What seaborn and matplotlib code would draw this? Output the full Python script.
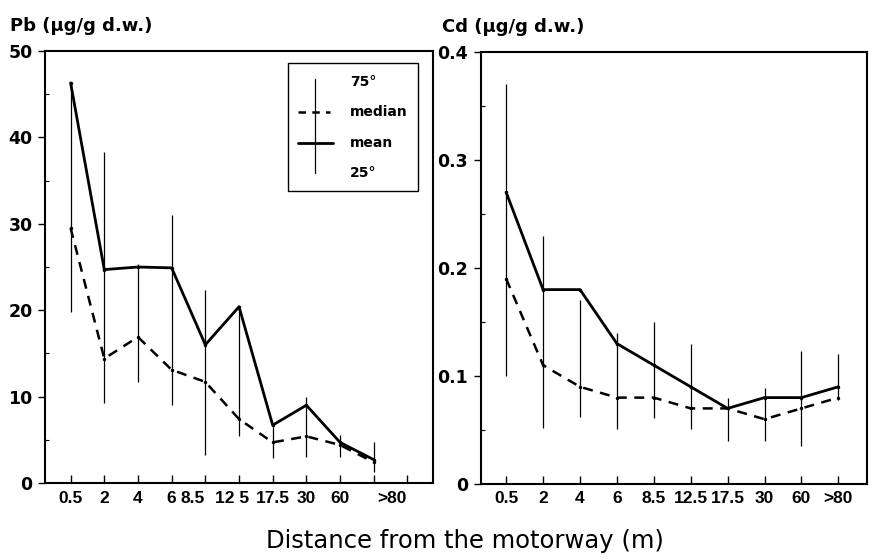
import numpy as np
import pandas as pd
import matplotlib
matplotlib.use("Agg")
import matplotlib.pyplot as plt
import seaborn as sns
from matplotlib.patches import Rectangle

# ---------------- data ----------------
dist_labels_pb = ["0.5", "2", "4", "6", "8.5", "12 5", "17.5", "30", "60", ">80"]
dist_labels_cd = ["0.5", "2", "4", "6", "8.5", "12.5", "17.5", "30", "60", ">80"]

pb_mean = [46.3, 24.7, 25.0, 24.9, 16.0, 20.4, 6.7, 9.0, 4.7, 2.7]
pb_median = [29.5, 14.4, 16.9, 13.1, 11.7, 7.4, 4.7, 5.4, 4.4, 2.4]
pb_q75 = [46.3, 38.3, 25.3, 31.0, 22.3, 20.4, 6.9, 9.9, 5.6, 4.8]
pb_q25 = [19.8, 9.3, 11.7, 9.0, 3.2, 5.4, 2.9, 3.0, 3.0, 1.3]

cd_mean = [0.27, 0.18, 0.18, 0.13, 0.11, 0.09, 0.07, 0.08, 0.08, 0.09]
cd_median = [0.19, 0.11, 0.09, 0.08, 0.08, 0.07, 0.07, 0.06, 0.07, 0.08]
cd_q75 = [0.37, 0.23, 0.17, 0.14, 0.15, 0.13, 0.08, 0.089, 0.123, 0.12]
cd_q25 = [0.10, 0.052, 0.062, 0.051, 0.061, 0.051, 0.04, 0.04, 0.035, 0.078]

# layout: where the (hand-set) Pb tick labels sit along the category axis
pb_label_layout = [0, 1, 2, 3, 3.63, 4.78, 6, 7, 8, 9.55]

# ---------------- style ----------------
sns.set_style("ticks")
plt.rcParams['font.family'] = ['DejaVu Sans']
for k in ["text.color", "axes.labelcolor", "xtick.color", "ytick.color", "axes.edgecolor"]:
    plt.rcParams[k] = "black"

XT_FONT = dict(family=["Liberation Sans", "DejaVu Sans"], fontweight="bold", fontsize=12.5)

fig = plt.figure(figsize=(8.69, 5.58), dpi=100)
ax1 = fig.add_axes([0.0518, 0.1344, 0.4465, 0.7742])
ax2 = fig.add_axes([0.5532, 0.1326, 0.4442, 0.7742])


def draw_panel(ax, labels, mean, median, q75, q25):
    df = pd.DataFrame({"pos": np.arange(len(labels)), "label": labels,
                       "mean": mean, "median": median, "q75": q75, "q25": q25})
    ax.vlines(df["pos"], df["q25"], df["q75"], color="black", lw=0.9, zorder=2)
    sns.lineplot(data=df, x="pos", y="median", ax=ax, color="black", lw=1.8,
                 linestyle=(0, (4, 3)), marker="o", markersize=2.5,
                 markeredgewidth=0, sort=False, zorder=3)
    sns.lineplot(data=df, x="pos", y="mean", ax=ax, color="black", lw=2.0,
                 marker="o", markersize=2.5, markeredgewidth=0, sort=False, zorder=4)
    ax.set_xlabel("")
    ax.set_ylabel("")
    for s in ax.spines.values():
        s.set_linewidth(1.5)
        s.set_color("black")
    ax.tick_params(axis="x", which="major", direction="in", length=6, width=1, pad=5)
    ax.tick_params(axis="x", which="minor", length=0, pad=6)
    ax.tick_params(axis="y", which="major", direction="out", length=5, width=1,
                   pad=4, labelsize=12.5)
    ax.tick_params(axis="y", which="minor", direction="in", length=3, width=0.8)
    return df


# ---- Pb panel ----
df1 = draw_panel(ax1, dist_labels_pb, pb_mean, pb_median, pb_q75, pb_q25)
ax1.xaxis.remove_overlapping_locs = False
ax1.set_xlim(-0.76, 10.76)
ax1.set_xticks(np.arange(len(dist_labels_pb) + 1))
ax1.set_xticklabels([""] * (len(dist_labels_pb) + 1))
ax1.set_xticks(pb_label_layout, minor=True)
ax1.set_xticklabels(dist_labels_pb, minor=True, **XT_FONT)
ax1.set_ylim(0, 50)
ax1.set_yticks([0, 10, 20, 30, 40, 50])
ax1.set_yticks([5, 15, 25, 35, 45], minor=True)
ax1.set_yticklabels(["0", "10", "20", "30", "40", "50"], fontweight="bold")

# ---- Cd panel ----
df2 = draw_panel(ax2, dist_labels_cd, cd_mean, cd_median, cd_q75, cd_q25)
ax2.set_xlim(-0.69, 9.77)
ax2.set_xticks(np.arange(len(dist_labels_cd)))
ax2.set_xticklabels(dist_labels_cd, **XT_FONT)
ax2.set_ylim(0, 0.4)
ax2.set_yticks([0, 0.1, 0.2, 0.3, 0.4])
ax2.set_yticks([0.05, 0.15, 0.25, 0.35], minor=True)
ax2.set_yticklabels(["0", "0.1", "0.2", "0.3", "0.4"], fontweight="bold")

# panel titles (y-axis units)
ax1.text(-0.09, 1.058, "Pb (\u00b5g/g d.w.)", transform=ax1.transAxes,
         ha="left", va="center", fontsize=13, fontweight="bold")
ax2.text(-0.101, 1.058, "Cd (\u00b5g/g d.w.)", transform=ax2.transAxes,
         ha="left", va="center", fontsize=13, fontweight="bold")

# legend box (manual, in axes coordinates)
ax1.add_patch(Rectangle((0.626, 0.676), 0.335, 0.296, transform=ax1.transAxes,
                        fill=False, edgecolor="black", lw=1.0, zorder=5))
ax1.plot([0.696, 0.696], [0.718, 0.935], transform=ax1.transAxes,
         color="black", lw=0.9, zorder=6)
ax1.plot([0.652, 0.735], [0.859, 0.859], transform=ax1.transAxes,
         color="black", lw=1.8, linestyle=(0, (3, 2.5)), zorder=6)
ax1.plot([0.652, 0.742], [0.787, 0.787], transform=ax1.transAxes,
         color="black", lw=2.0, zorder=6)
for txt, yy in [("75\u00b0", 0.928), ("median", 0.859), ("mean", 0.787), ("25\u00b0", 0.718)]:
    ax1.text(0.786, yy, txt, transform=ax1.transAxes, ha="left", va="center",
             fontsize=10, fontweight="bold", zorder=6)

fig.text(0.5345, 0.031, "Distance from the motorway (m)", ha="center", va="center",
         fontsize=17.5)

fig.savefig("out.png", dpi=100)
